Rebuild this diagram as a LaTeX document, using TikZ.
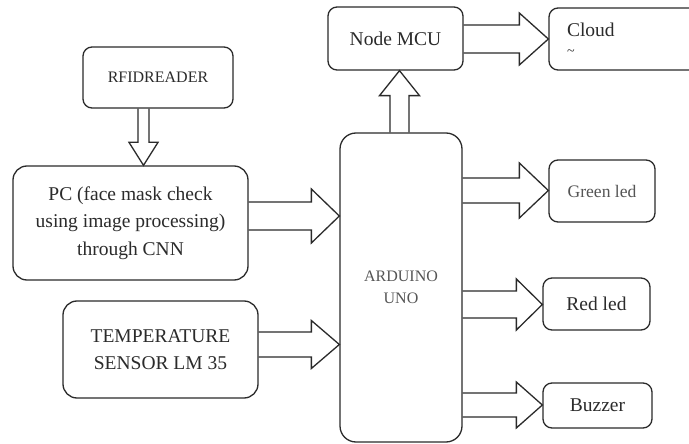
\documentclass[tikz,border=0pt]{standalone}
\usepackage{fontspec}
\setmainfont{Liberation Serif}
\usetikzlibrary{calc}
\definecolor{ink}{HTML}{2B2B2B}
\definecolor{lightink}{HTML}{555555}
\tikzset{
  blk/.style={draw=ink, line width=1.3pt, rounded corners=9pt, inner sep=0pt, text=ink, align=center},
  arr/.style={draw=ink, line width=1.3pt, line join=miter},
  big/.style={font=\fontsize{19.5}{27.5}\selectfont},
  small/.style={font=\fontsize{16}{22}\selectfont}
}
% horizontal block arrow: #1 source node, #2 target node, #3 centre y, #4 shaft half, #5 head half, #6 head length
\newcommand{\harrow}[6]{%
  \coordinate (hy) at (0,#3);
  \draw[arr] ($(#1.east |- hy)+(0,-#4)$) -- ($(#2.west |- hy)+({-(#6)},-#4)$) -- ++(0,#4-#5)
    -- (#2.west |- hy) -- ($(#2.west |- hy)+({-(#6)},#5)$) -- ++(0,#4-#5)
    -- ($(#1.east |- hy)+(0,#4)$);
}
% vertical block arrow: #1 source anchor, #2 tip anchor, #3 centre x, #4 shaft half, #5 head half, #6 signed head length
\newcommand{\varrow}[6]{%
  \coordinate (vx) at (#3,0);
  \draw[arr] ($(vx |- #1)+(-#4,0)$) -- ($(vx |- #2)+(-#4,{-(#6)})$) -- ++(#4-#5,0)
    -- (vx |- #2) -- ($(vx |- #2)+(#5,{-(#6)})$) -- ++(#4-#5,0)
    -- ($(vx |- #1)+(#4,0)$);
}
\begin{document}
\begin{tikzpicture}[x=1pt,y=-1pt]
\useasboundingbox[fill=white] (0,0) rectangle (689,444);
% boxes
\node[blk, small, minimum width=150pt, minimum height=61pt] (rfid) at (158,77.5) {RFIDREADER};
\node[blk, big, rounded corners=14pt, minimum width=235pt, minimum height=114pt] (pc) at (130.5,223)
  {PC (face mask check\\using image processing)\\through CNN};
\node[blk, big, rounded corners=14pt, minimum width=195pt, minimum height=97pt] (temp) at (160.5,349.5)
  {TEMPERATURE\\SENSOR LM 35};
\node[blk, big, minimum width=135pt, minimum height=63pt] (mcu) at (395.5,38.5) {Node MCU};
\node[blk, big, minimum width=151pt, minimum height=62pt, text width=115pt, align=left, inner xsep=18pt] (cloud) at (624.5,39)
  {Cloud\\[-9pt]{\fontsize{14}{14}\selectfont\textasciitilde}};
\node[blk, small, text=lightink, rounded corners=16pt, minimum width=122pt, minimum height=309pt] (ard) at (401,287.5)
  {ARDUINO\\UNO};
\node[blk, font=\fontsize{17.6}{20}\selectfont, text=lightink, minimum width=106pt, minimum height=62pt] (green) at (602,191) {Green led};
\node[blk, big, minimum width=107pt, minimum height=52pt] (red) at (596.5,304) {Red led};
\node[blk, big, minimum width=109pt, minimum height=45pt] (buzz) at (597.5,405.5) {Buzzer};
% arrows
\varrow{rfid.south}{pc.north}{143.5}{5.5}{14.5}{23}
\harrow{pc}{ard}{216}{14}{27}{28}
\harrow{temp}{ard}{344.5}{12.5}{24}{28}
\varrow{ard.north}{mcu.south}{399.5}{9.5}{20}{-25}
\harrow{mcu}{cloud}{39}{14}{26}{29}
\harrow{ard}{green}{190.5}{12.5}{27.5}{29}
\harrow{ard}{red}{304.5}{13.5}{25.5}{26}
\harrow{ard}{buzz}{405}{12}{23}{26}
\end{tikzpicture}
\end{document}
